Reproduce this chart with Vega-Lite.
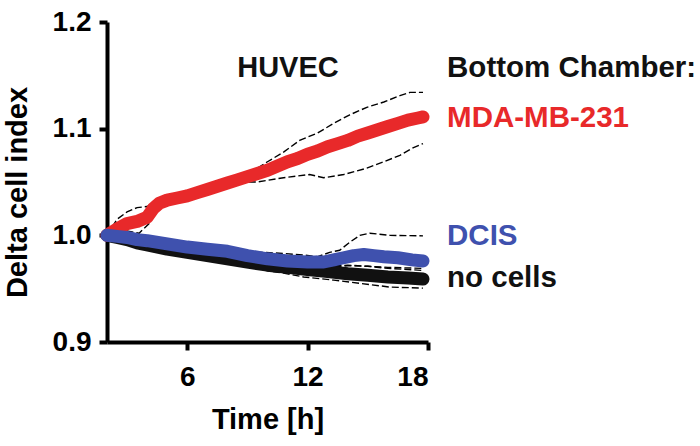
{
  "$schema": "https://vega.github.io/schema/vega-lite/v6.json",
  "autosize": "none",
  "width": 321,
  "height": 320,
  "padding": {"left": 107, "top": 22, "right": 272, "bottom": 104},
  "background": "white",
  "config": {
    "font": "Liberation Sans",
    "view": {"stroke": null},
    "axis": {
      "grid": false,
      "domainColor": "#000000",
      "domainWidth": 4,
      "tickColor": "#000000",
      "tickWidth": 4,
      "tickSize": 8,
      "labelFont": "Liberation Sans",
      "labelFontSize": 28,
      "labelFontWeight": "bold",
      "labelColor": "#000000",
      "titleFont": "Liberation Sans",
      "titleFontSize": 29,
      "titleFontWeight": "bold",
      "titleColor": "#000000"
    }
  },
  "datasets": {
    "means": [
      {"series": "MDA-MB-231", "t": 2.0, "v": 1.000},
      {"series": "MDA-MB-231", "t": 2.5, "v": 1.006},
      {"series": "MDA-MB-231", "t": 3.0, "v": 1.011},
      {"series": "MDA-MB-231", "t": 3.5, "v": 1.013},
      {"series": "MDA-MB-231", "t": 4.0, "v": 1.017},
      {"series": "MDA-MB-231", "t": 4.3, "v": 1.025},
      {"series": "MDA-MB-231", "t": 4.6, "v": 1.030},
      {"series": "MDA-MB-231", "t": 5.0, "v": 1.033},
      {"series": "MDA-MB-231", "t": 5.5, "v": 1.035},
      {"series": "MDA-MB-231", "t": 6.0, "v": 1.037},
      {"series": "MDA-MB-231", "t": 6.5, "v": 1.040},
      {"series": "MDA-MB-231", "t": 7.0, "v": 1.043},
      {"series": "MDA-MB-231", "t": 7.5, "v": 1.046},
      {"series": "MDA-MB-231", "t": 8.0, "v": 1.049},
      {"series": "MDA-MB-231", "t": 8.5, "v": 1.052},
      {"series": "MDA-MB-231", "t": 9.0, "v": 1.055},
      {"series": "MDA-MB-231", "t": 9.5, "v": 1.058},
      {"series": "MDA-MB-231", "t": 10.0, "v": 1.061},
      {"series": "MDA-MB-231", "t": 10.5, "v": 1.065},
      {"series": "MDA-MB-231", "t": 11.0, "v": 1.069},
      {"series": "MDA-MB-231", "t": 11.5, "v": 1.072},
      {"series": "MDA-MB-231", "t": 12.0, "v": 1.076},
      {"series": "MDA-MB-231", "t": 12.5, "v": 1.079},
      {"series": "MDA-MB-231", "t": 13.0, "v": 1.083},
      {"series": "MDA-MB-231", "t": 13.5, "v": 1.086},
      {"series": "MDA-MB-231", "t": 14.0, "v": 1.089},
      {"series": "MDA-MB-231", "t": 14.5, "v": 1.093},
      {"series": "MDA-MB-231", "t": 15.0, "v": 1.096},
      {"series": "MDA-MB-231", "t": 15.5, "v": 1.099},
      {"series": "MDA-MB-231", "t": 16.0, "v": 1.102},
      {"series": "MDA-MB-231", "t": 16.5, "v": 1.105},
      {"series": "MDA-MB-231", "t": 17.0, "v": 1.108},
      {"series": "MDA-MB-231", "t": 17.5, "v": 1.110},
      {"series": "MDA-MB-231", "t": 17.75, "v": 1.111},
      {"series": "DCIS", "t": 2.0, "v": 1.000},
      {"series": "DCIS", "t": 2.5, "v": 0.999},
      {"series": "DCIS", "t": 3.0, "v": 0.998},
      {"series": "DCIS", "t": 3.5, "v": 0.996},
      {"series": "DCIS", "t": 4.0, "v": 0.995},
      {"series": "DCIS", "t": 5.0, "v": 0.992},
      {"series": "DCIS", "t": 6.0, "v": 0.989},
      {"series": "DCIS", "t": 7.0, "v": 0.987},
      {"series": "DCIS", "t": 8.0, "v": 0.985},
      {"series": "DCIS", "t": 9.0, "v": 0.981},
      {"series": "DCIS", "t": 10.0, "v": 0.978},
      {"series": "DCIS", "t": 11.0, "v": 0.976},
      {"series": "DCIS", "t": 12.0, "v": 0.975},
      {"series": "DCIS", "t": 12.8, "v": 0.975},
      {"series": "DCIS", "t": 13.3, "v": 0.977},
      {"series": "DCIS", "t": 13.8, "v": 0.979},
      {"series": "DCIS", "t": 14.3, "v": 0.981},
      {"series": "DCIS", "t": 14.8, "v": 0.982},
      {"series": "DCIS", "t": 15.3, "v": 0.981},
      {"series": "DCIS", "t": 15.8, "v": 0.980},
      {"series": "DCIS", "t": 16.5, "v": 0.979},
      {"series": "DCIS", "t": 17.2, "v": 0.977},
      {"series": "DCIS", "t": 17.75, "v": 0.976},
      {"series": "no cells", "t": 2.0, "v": 1.000},
      {"series": "no cells", "t": 2.5, "v": 0.998},
      {"series": "no cells", "t": 3.0, "v": 0.996},
      {"series": "no cells", "t": 3.5, "v": 0.993},
      {"series": "no cells", "t": 4.0, "v": 0.991},
      {"series": "no cells", "t": 5.0, "v": 0.987},
      {"series": "no cells", "t": 6.0, "v": 0.984},
      {"series": "no cells", "t": 7.0, "v": 0.981},
      {"series": "no cells", "t": 8.0, "v": 0.978},
      {"series": "no cells", "t": 9.0, "v": 0.975},
      {"series": "no cells", "t": 10.0, "v": 0.972},
      {"series": "no cells", "t": 11.0, "v": 0.970},
      {"series": "no cells", "t": 12.0, "v": 0.968},
      {"series": "no cells", "t": 13.0, "v": 0.966},
      {"series": "no cells", "t": 14.0, "v": 0.964},
      {"series": "no cells", "t": 15.0, "v": 0.9625},
      {"series": "no cells", "t": 16.0, "v": 0.961},
      {"series": "no cells", "t": 17.0, "v": 0.960},
      {"series": "no cells", "t": 17.75, "v": 0.959}
    ],
    "bands": [
      {"band": "MDA upper", "t": 2.0, "v": 1.000},
      {"band": "MDA upper", "t": 2.5, "v": 1.015},
      {"band": "MDA upper", "t": 3.0, "v": 1.022},
      {"band": "MDA upper", "t": 3.5, "v": 1.026},
      {"band": "MDA upper", "t": 4.0, "v": 1.027},
      {"band": "MDA upper", "t": 4.5, "v": 1.033},
      {"band": "MDA upper", "t": 5.0, "v": 1.036},
      {"band": "MDA upper", "t": 6.0, "v": 1.040},
      {"band": "MDA upper", "t": 7.0, "v": 1.046},
      {"band": "MDA upper", "t": 8.0, "v": 1.052},
      {"band": "MDA upper", "t": 9.0, "v": 1.058},
      {"band": "MDA upper", "t": 9.5, "v": 1.063},
      {"band": "MDA upper", "t": 10.0, "v": 1.069},
      {"band": "MDA upper", "t": 10.8, "v": 1.078},
      {"band": "MDA upper", "t": 11.6, "v": 1.089},
      {"band": "MDA upper", "t": 12.5, "v": 1.096},
      {"band": "MDA upper", "t": 13.3, "v": 1.105},
      {"band": "MDA upper", "t": 14.1, "v": 1.113},
      {"band": "MDA upper", "t": 14.95, "v": 1.120},
      {"band": "MDA upper", "t": 15.8, "v": 1.125},
      {"band": "MDA upper", "t": 16.6, "v": 1.131},
      {"band": "MDA upper", "t": 17.1, "v": 1.134},
      {"band": "MDA upper", "t": 17.75, "v": 1.134},
      {"band": "MDA lower", "t": 2.0, "v": 1.000},
      {"band": "MDA lower", "t": 2.5, "v": 1.003},
      {"band": "MDA lower", "t": 3.0, "v": 1.004},
      {"band": "MDA lower", "t": 3.6, "v": 1.002},
      {"band": "MDA lower", "t": 4.1, "v": 1.011},
      {"band": "MDA lower", "t": 4.5, "v": 1.026},
      {"band": "MDA lower", "t": 5.0, "v": 1.030},
      {"band": "MDA lower", "t": 6.0, "v": 1.034},
      {"band": "MDA lower", "t": 7.0, "v": 1.040},
      {"band": "MDA lower", "t": 8.0, "v": 1.046},
      {"band": "MDA lower", "t": 9.0, "v": 1.050},
      {"band": "MDA lower", "t": 9.5, "v": 1.050},
      {"band": "MDA lower", "t": 10.8, "v": 1.054},
      {"band": "MDA lower", "t": 12.1, "v": 1.057},
      {"band": "MDA lower", "t": 12.8, "v": 1.054},
      {"band": "MDA lower", "t": 13.8, "v": 1.057},
      {"band": "MDA lower", "t": 14.95, "v": 1.063},
      {"band": "MDA lower", "t": 15.8, "v": 1.069},
      {"band": "MDA lower", "t": 16.6, "v": 1.075},
      {"band": "MDA lower", "t": 17.25, "v": 1.082},
      {"band": "MDA lower", "t": 17.75, "v": 1.086},
      {"band": "DCIS upper", "t": 2.0, "v": 1.000},
      {"band": "DCIS upper", "t": 3.0, "v": 1.000},
      {"band": "DCIS upper", "t": 4.0, "v": 0.998},
      {"band": "DCIS upper", "t": 5.0, "v": 0.995},
      {"band": "DCIS upper", "t": 6.0, "v": 0.992},
      {"band": "DCIS upper", "t": 7.0, "v": 0.990},
      {"band": "DCIS upper", "t": 8.0, "v": 0.988},
      {"band": "DCIS upper", "t": 9.0, "v": 0.985},
      {"band": "DCIS upper", "t": 9.8, "v": 0.984},
      {"band": "DCIS upper", "t": 10.8, "v": 0.983},
      {"band": "DCIS upper", "t": 11.8, "v": 0.9815},
      {"band": "DCIS upper", "t": 12.5, "v": 0.980},
      {"band": "DCIS upper", "t": 13.1, "v": 0.984},
      {"band": "DCIS upper", "t": 13.6, "v": 0.986},
      {"band": "DCIS upper", "t": 14.1, "v": 0.9935},
      {"band": "DCIS upper", "t": 14.6, "v": 1.000},
      {"band": "DCIS upper", "t": 15.1, "v": 1.002},
      {"band": "DCIS upper", "t": 16.1, "v": 1.000},
      {"band": "DCIS upper", "t": 17.75, "v": 0.9995},
      {"band": "DCIS lower", "t": 2.0, "v": 1.000},
      {"band": "DCIS lower", "t": 4.0, "v": 0.991},
      {"band": "DCIS lower", "t": 6.0, "v": 0.986},
      {"band": "DCIS lower", "t": 8.0, "v": 0.982},
      {"band": "DCIS lower", "t": 10.0, "v": 0.975},
      {"band": "DCIS lower", "t": 12.0, "v": 0.972},
      {"band": "DCIS lower", "t": 13.0, "v": 0.971},
      {"band": "DCIS lower", "t": 14.0, "v": 0.972},
      {"band": "DCIS lower", "t": 15.0, "v": 0.971},
      {"band": "DCIS lower", "t": 16.0, "v": 0.970},
      {"band": "DCIS lower", "t": 17.75, "v": 0.969},
      {"band": "no cells upper", "t": 2.0, "v": 1.000},
      {"band": "no cells upper", "t": 4.0, "v": 0.993},
      {"band": "no cells upper", "t": 6.0, "v": 0.986},
      {"band": "no cells upper", "t": 8.0, "v": 0.981},
      {"band": "no cells upper", "t": 10.0, "v": 0.975},
      {"band": "no cells upper", "t": 12.0, "v": 0.971},
      {"band": "no cells upper", "t": 13.0, "v": 0.970},
      {"band": "no cells upper", "t": 14.0, "v": 0.9715},
      {"band": "no cells upper", "t": 15.0, "v": 0.971},
      {"band": "no cells upper", "t": 16.0, "v": 0.969},
      {"band": "no cells upper", "t": 17.0, "v": 0.968},
      {"band": "no cells upper", "t": 17.75, "v": 0.967},
      {"band": "no cells lower", "t": 2.0, "v": 1.000},
      {"band": "no cells lower", "t": 4.0, "v": 0.989},
      {"band": "no cells lower", "t": 6.0, "v": 0.982},
      {"band": "no cells lower", "t": 8.0, "v": 0.976},
      {"band": "no cells lower", "t": 9.0, "v": 0.972},
      {"band": "no cells lower", "t": 9.8, "v": 0.9675},
      {"band": "no cells lower", "t": 10.8, "v": 0.9646},
      {"band": "no cells lower", "t": 11.8, "v": 0.961},
      {"band": "no cells lower", "t": 13.3, "v": 0.958},
      {"band": "no cells lower", "t": 14.6, "v": 0.955},
      {"band": "no cells lower", "t": 16.1, "v": 0.9515},
      {"band": "no cells lower", "t": 17.75, "v": 0.9505}
    ],
    "labels": [
      {"label": "Bottom Chamber:", "t": 18.95, "v": 1.1484},
      {"label": "MDA-MB-231", "t": 18.95, "v": 1.1015},
      {"label": "DCIS", "t": 18.95, "v": 0.9909},
      {"label": "no cells", "t": 18.95, "v": 0.9515}
    ],
    "titles": [
      {"label": "HUVEC", "t": 11.02, "v": 1.1484}
    ]
  },
  "encoding": {
    "x": {
      "field": "t", "type": "quantitative",
      "scale": {"domain": [2, 18], "nice": false, "zero": false},
      "axis": {"values": [6, 12, 18], "title": "Time [h]", "labelPadding": 13, "titlePadding": 14}
    },
    "y": {
      "field": "v", "type": "quantitative",
      "scale": {"domain": [0.9, 1.2], "nice": false, "zero": false},
      "axis": {"values": [0.9, 1.0, 1.1, 1.2], "format": ".1f", "title": "Delta cell index", "labelPadding": 8, "titlePadding": 20, "titleY": 170}
    }
  },
  "layer": [
    {
      "data": {"name": "bands"},
      "mark": {"type": "line", "stroke": "#000000", "strokeWidth": 1.4, "strokeDash": [7, 3]},
      "encoding": {"detail": {"field": "band", "type": "nominal"}}
    },
    {
      "data": {"name": "means"},
      "transform": [{"filter": "datum.series === 'no cells'"}],
      "mark": {"type": "line", "stroke": "#111111", "strokeWidth": 13, "strokeCap": "round", "strokeJoin": "round"},
      "encoding": {}
    },
    {
      "data": {"name": "means"},
      "transform": [{"filter": "datum.series === 'MDA-MB-231'"}],
      "mark": {"type": "line", "stroke": "#E8292A", "strokeWidth": 13, "strokeCap": "round", "strokeJoin": "round"},
      "encoding": {}
    },
    {
      "data": {"name": "means"},
      "transform": [{"filter": "datum.series === 'DCIS'"}],
      "mark": {"type": "line", "stroke": "#3F51AE", "strokeWidth": 13, "strokeCap": "round", "strokeJoin": "round"},
      "encoding": {}
    },
    {
      "data": {"name": "labels"},
      "mark": {"type": "text", "align": "left", "baseline": "alphabetic", "font": "Liberation Sans", "fontSize": 29.5, "fontWeight": "bold"},
      "encoding": {
        "text": {"field": "label", "type": "nominal"},
        "color": {
          "field": "label", "type": "nominal", "legend": null,
          "scale": {"domain": ["Bottom Chamber:", "MDA-MB-231", "DCIS", "no cells"], "range": ["#111111", "#E8292A", "#3F51AE", "#111111"]}
        }
      }
    },
    {
      "data": {"name": "titles"},
      "mark": {"type": "text", "align": "center", "baseline": "alphabetic", "font": "Liberation Sans", "fontSize": 29, "fontWeight": "bold", "color": "#111111"},
      "encoding": {"text": {"field": "label", "type": "nominal"}}
    }
  ]
}
